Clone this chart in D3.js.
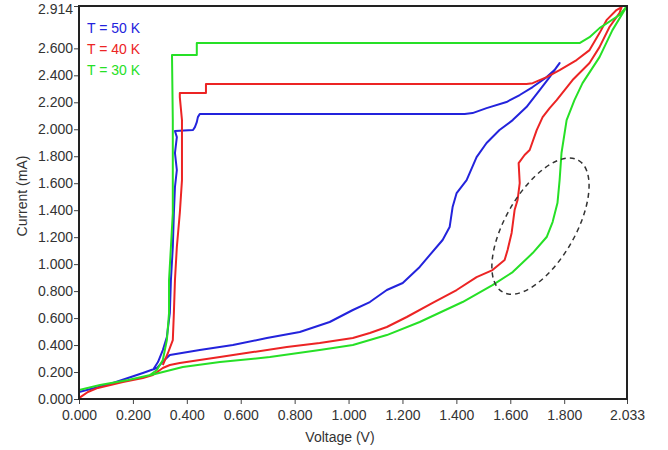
<!DOCTYPE html>
<html>
<head>
<meta charset="utf-8">
<script src="https://cdn.jsdelivr.net/npm/d3@7"></script>
<style>
  body { margin: 0; background: #fff; }
  text { font-family: "Liberation Sans", Arial, sans-serif; }
</style>
</head>
<body>
<svg id="chart" width="668" height="450"></svg>
<script>
// tick values
var xTicks = [0, 0.2, 0.4, 0.6, 0.8, 1.0, 1.2, 1.4, 1.6, 1.8, 2.033]
var yTicks = [0, 0.2, 0.4, 0.6, 0.8, 1.0, 1.2, 1.4, 1.6, 1.8, 2.0, 2.2, 2.4, 2.6, 2.914]

// T = 50 K  [voltage V, current mA]
var blue = [
  [0, 0.052], [0.115, 0.111], [0.237, 0.193], [0.289, 0.230], [0.315, 0.285], [0.337, 0.326],
  [0.448, 0.363], [0.571, 0.400], [0.697, 0.452], [0.819, 0.497], [0.930, 0.571], [1.016, 0.660],
  [1.079, 0.719], [1.142, 0.808], [1.201, 0.860], [1.264, 0.979], [1.301, 1.067], [1.349, 1.179],
  [1.375, 1.275], [1.386, 1.423], [1.401, 1.527], [1.438, 1.623], [1.475, 1.794], [1.512, 1.898],
  [1.560, 1.994], [1.609, 2.068], [1.660, 2.165], [1.709, 2.291], [1.746, 2.387], [1.772, 2.461],
  [1.783, 2.491], [1.764, 2.439], [1.735, 2.387], [1.683, 2.313], [1.635, 2.254], [1.586, 2.202],
  [1.512, 2.157], [1.460, 2.120], [1.431, 2.113], [0.448, 2.113], [0.441, 2.090], [0.437, 2.053],
  [0.430, 2.016], [0.423, 1.994], [0.356, 1.987], [0.363, 1.942], [0.356, 1.824], [0.363, 1.698],
  [0.356, 1.572], [0.352, 1.379], [0.348, 1.127], [0.341, 0.882], [0.337, 0.638], [0.326, 0.460],
  [0.311, 0.363], [0.293, 0.274], [0.274, 0.215]
]

// T = 40 K
var red = [
  [0, 0.007], [0.033, 0.052], [0.070, 0.082], [0.163, 0.126], [0.237, 0.156], [0.274, 0.178],
  [0.311, 0.230], [0.337, 0.252], [0.374, 0.267], [0.448, 0.289], [0.523, 0.311], [0.645, 0.348],
  [0.771, 0.385], [0.893, 0.415], [1.016, 0.452], [1.079, 0.489], [1.142, 0.534], [1.216, 0.608],
  [1.312, 0.712], [1.401, 0.808], [1.475, 0.904], [1.534, 0.956], [1.579, 1.030], [1.590, 1.105],
  [1.605, 1.231], [1.616, 1.401], [1.627, 1.475], [1.635, 1.601], [1.631, 1.749], [1.653, 1.809],
  [1.672, 1.846], [1.698, 1.994], [1.720, 2.090], [1.746, 2.157], [1.772, 2.216], [1.831, 2.365],
  [1.894, 2.491], [1.931, 2.609], [1.968, 2.758], [2.005, 2.861], [2.013, 2.906],
  [1.994, 2.884], [1.957, 2.809], [1.931, 2.713], [1.894, 2.587], [1.846, 2.513], [1.783, 2.439],
  [1.735, 2.387], [1.683, 2.342], [1.660, 2.335], [0.471, 2.335], [0.471, 2.268], [0.374, 2.268],
  [0.374, 2.239], [0.382, 2.068], [0.382, 1.824], [0.382, 1.623], [0.374, 1.379], [0.363, 1.127],
  [0.356, 0.882], [0.352, 0.638], [0.348, 0.437], [0.330, 0.341], [0.311, 0.252]
]

// T = 30 K
var green = [
  [0, 0.067], [0.078, 0.104], [0.182, 0.141], [0.282, 0.185], [0.385, 0.237], [0.523, 0.274],
  [0.708, 0.311], [0.893, 0.363], [1.016, 0.400], [1.142, 0.474], [1.264, 0.571], [1.423, 0.719],
  [1.534, 0.845], [1.609, 0.941], [1.683, 1.082], [1.735, 1.201], [1.757, 1.312], [1.775, 1.453],
  [1.783, 1.623], [1.790, 1.824], [1.809, 2.068], [1.838, 2.216], [1.868, 2.342], [1.931, 2.535],
  [1.979, 2.735], [2.033, 2.914],
  [2.005, 2.847], [1.931, 2.750], [1.894, 2.683], [1.857, 2.639], [0.437, 2.639], [0.437, 2.550],
  [0.345, 2.550], [0.348, 2.068], [0.348, 1.572], [0.348, 1.379], [0.341, 1.127], [0.334, 0.882],
  [0.334, 0.638], [0.326, 0.437], [0.311, 0.289], [0.289, 0.215], [0.263, 0.178]
]

var seriesNames = ['T = 50 K', 'T = 40 K', 'T = 30 K']
var seriesColors = ['#2323dc', '#ec2424', '#26e026']

// dashed ellipse annotation, centre in data units
var ellipseCentre = [1.712, 1.282]

var margin = {top: 6, right: 41, bottom: 51, left: 79}
var W = 668, H = 450
var svg = d3.select('#chart')

var x = d3.scaleLinear().domain([0, 2.033]).range([margin.left, W - margin.right])
var y = d3.scaleLinear().domain([0, 2.914]).range([H - margin.bottom, margin.top])

var fmt = d3.format('.3f')

var xAxis = svg.append('g')
    .attr('transform', 'translate(0,' + (H - margin.bottom) + ')')
    .call(d3.axisBottom(x).tickValues(xTicks).tickFormat(fmt).tickSize(5).tickPadding(6))
var yAxis = svg.append('g')
    .attr('transform', 'translate(' + margin.left + ',0)')
    .call(d3.axisLeft(y).tickValues(yTicks).tickFormat(fmt).tickSize(5).tickPadding(1))

svg.selectAll('.domain').remove()
svg.selectAll('.tick line').attr('stroke', '#444')
svg.selectAll('.tick text').attr('fill', '#333').style('font-size', '14px')

// top label sits at the very edge, nudge it down so it stays readable
yAxis.selectAll('.tick text').filter(function (d) { return d === 2.914 }).attr('dy', '0.55em')

var line = d3.line().x(function (d) { return x(d[0]) }).y(function (d) { return y(d[1]) })

var clip = svg.append('clipPath').attr('id', 'plotclip').append('rect')
    .attr('x', margin.left).attr('y', margin.top)
    .attr('width', W - margin.left - margin.right).attr('height', H - margin.top - margin.bottom)

var plot = svg.append('g').attr('clip-path', 'url(#plotclip)')

var allSeries = [blue, red, green]
allSeries.forEach(function (s, i) {
    plot.append('path').datum(s)
        .attr('d', line)
        .attr('fill', 'none')
        .attr('stroke', seriesColors[i])
        .attr('stroke-width', 2)
        .attr('stroke-linejoin', 'round')
})

// dashed ellipse
svg.append('ellipse')
    .attr('cx', 0).attr('cy', 0).attr('rx', 76).attr('ry', 35)
    .attr('transform', 'translate(' + x(ellipseCentre[0]) + ',' + y(ellipseCentre[1]) + ') rotate(-60)')
    .attr('fill', 'none')
    .attr('stroke', '#333')
    .attr('stroke-width', 1.5)
    .attr('stroke-dasharray', '5,4')

// frame
svg.append('rect')
    .attr('x', margin.left).attr('y', margin.top)
    .attr('width', W - margin.left - margin.right).attr('height', H - margin.top - margin.bottom)
    .attr('fill', 'none').attr('stroke', '#222').attr('stroke-width', 2)

// legend
seriesNames.forEach(function (name, i) {
    svg.append('text')
        .attr('x', 87).attr('y', 33 + i * 21)
        .attr('fill', seriesColors[i])
        .style('font-size', '14px')
        .text(name)
})

// axis titles
svg.append('text')
    .attr('x', 340).attr('y', 442)
    .attr('text-anchor', 'middle')
    .attr('fill', '#333')
    .style('font-size', '14px')
    .text('Voltage (V)')

svg.append('text')
    .attr('transform', 'translate(27,196) rotate(-90)')
    .attr('text-anchor', 'middle')
    .attr('fill', '#333')
    .style('font-size', '14px')
    .text('Current (mA)')
</script>
</body>
</html>
